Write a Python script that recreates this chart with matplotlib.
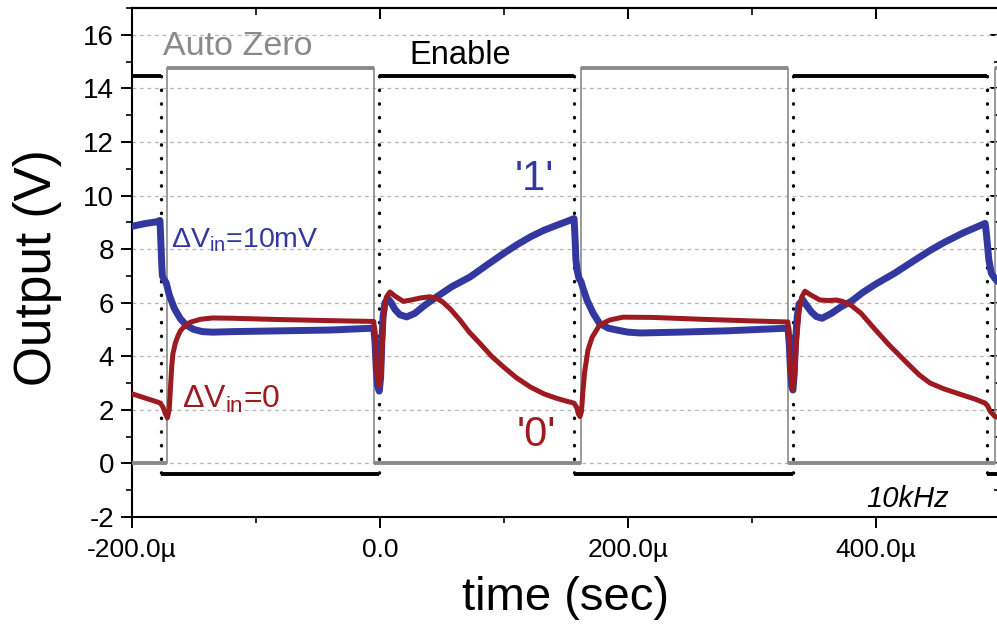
import numpy as np
import matplotlib
matplotlib.use('Agg')
import matplotlib.pyplot as plt
from matplotlib.ticker import MultipleLocator

plt.rcParams['font.family'] = ['Liberation Sans', 'DejaVu Sans']
plt.rcParams['mathtext.fontset'] = 'custom'
plt.rcParams['mathtext.rm'] = 'Liberation Sans'
plt.rcParams['mathtext.default'] = 'regular'
plt.rcParams['axes.unicode_minus'] = False

# === DATA (time in microseconds, output in volts) ===
# Enable (black): edge times and levels
enable_edges = [-176.9, -0.8, 156.5, 333.0, 489.8]
enable_hi = 14.45
enable_lo = -0.4
enable_start_hi = True

# Auto Zero (gray): edge times and levels
az_edges = [-171.5, -4.6, 162.1, 329.0, 496.0]
az_hi = 14.75
az_lo = 0.02
az_start_hi = False

# dVin = 10mV (blue)
blue_t = [-200, -190, -180, -177.5, -177, -176.5, -176, -175.5, -174, -172.5, -170, -166,
          -161, -156, -150, -143, -135, -120, -80, -40, -5, -4, -3, -2, -0.6, 0.5, 1.5,
          2.5, 4, 6.5, 9, 12, 16, 21.5, 28, 36, 45.7, 58, 72.6, 86, 99.4, 110, 121, 132,
          142.5, 150, 156.5, 157, 157.5, 158, 159, 160.5, 162, 164, 167, 172, 177, 184,
          191, 200, 210, 240, 280, 329, 330, 331, 332, 333, 334, 335, 336.5, 338, 341,
          344, 348, 352, 356.5, 364, 372, 380, 389.6, 400, 415, 430, 443.6, 455, 470,
          480, 488, 489, 490, 491, 493, 496, 500]
blue_v = [8.85, 8.95, 9.02, 9.07, 8.6, 8.0, 7.4, 7.0, 6.85, 6.75, 6.3, 5.8,
          5.4, 5.15, 5.0, 4.92, 4.9, 4.92, 4.95, 4.98, 5.05, 4.5, 3.5, 2.9, 2.7, 3.2, 4.6,
          5.5, 6.0, 6.15, 6.0, 5.75, 5.55, 5.47, 5.6, 5.9, 6.22, 6.6, 6.96, 7.4, 7.83, 8.15, 8.45, 8.7,
          8.89, 9.02, 9.14, 8.7, 8.2, 7.6, 7.2, 6.9, 6.8, 6.5, 6.09, 5.6, 5.23, 5.05,
          4.98, 4.9, 4.87, 4.9, 4.95, 5.05, 4.5, 3.5, 2.9, 2.74, 3.3, 4.5, 5.5, 5.95, 6.1,
          5.9, 5.65, 5.48, 5.42, 5.6, 5.85, 6.05, 6.39, 6.7, 7.1, 7.55, 7.95, 8.25, 8.6,
          8.8, 8.96, 8.6, 8.1, 7.6, 7.1, 6.9, 6.7]

# dVin = 0 (dark red)
red_t = [-200, -190, -180, -177, -175, -173, -171.5, -170, -169, -168, -167, -165, -163,
         -161, -157, -153, -145, -135, -120, -80, -40, -5, -4, -3, -2, -0.5, 1, 2, 3, 5,
         8, 12, 18.8, 25, 33, 40.3, 46, 50, 57, 64.5, 72, 80.6, 90, 99.4, 110, 121, 132,
         142.5, 150, 156.5, 158.5, 160, 161.3, 162.5, 163.5, 165, 167.7, 171, 177, 185,
         196, 220, 260, 300, 329, 330, 331, 332, 333, 334.5, 336, 338, 340, 342.7, 347,
         354.8, 362, 368, 373, 380, 388, 397.6, 410, 425, 435, 443.6, 455, 470, 480, 488,
         490, 492, 496, 500]
red_v = [2.6, 2.45, 2.3, 2.25, 2.1, 1.85, 1.7, 2.0, 2.8, 3.6, 4.1, 4.5, 4.75,
         4.95, 5.15, 5.27, 5.38, 5.43, 5.42, 5.37, 5.33, 5.3, 4.7, 3.7, 3.1, 2.9, 3.4, 4.5, 5.5, 6.2,
         6.4, 6.25, 6.05, 6.1, 6.18, 6.22, 6.15, 6.05, 5.75, 5.35, 4.9, 4.48, 4.0, 3.61, 3.2, 2.86, 2.6,
         2.43, 2.33, 2.25, 2.1, 1.85, 1.75, 1.95, 2.6, 3.4, 4.23, 4.7, 5.16, 5.35,
         5.46, 5.45, 5.38, 5.32, 5.28, 4.6, 3.6, 2.9, 2.75, 3.4, 4.6, 5.7, 6.2, 6.43, 6.3,
         6.1, 6.08, 6.1, 6.05, 5.9, 5.6, 5.09, 4.45, 3.75, 3.3, 3.0, 2.78, 2.55, 2.4, 2.25,
         2.15, 1.95, 1.75, 1.7]

xtick_vals = [-200, 0, 200, 400]
xtick_labels = ['-200.0µ', '0.0', '200.0µ', '400.0µ']

BLUE = '#3338a0'
RED = '#9b1b20'
GRAY = '#8a8a8a'

t_min, t_max = -200, 500


def square_wave(edges, hi, lo, start_hi):
    """Return horizontal segments and vertical transitions of a square wave."""
    bounds = [t_min] + list(edges) + [t_max]
    horiz, vert = [], []
    level_hi = start_hi
    for i in range(len(bounds) - 1):
        lev = hi if level_hi else lo
        horiz.append(([bounds[i], bounds[i + 1]], [lev, lev]))
        if i < len(edges):
            vert.append(([edges[i], edges[i]], [hi, lo]))
        level_hi = not level_hi
    return horiz, vert


# === PLOT ===
fig = plt.figure(figsize=(9.97, 6.26), dpi=100)
ax = fig.add_axes([0.1324, 0.1741, 0.8706, 0.8131])

ax.set_xlim(t_min, t_max)
ax.set_ylim(-2, 17)

ax.yaxis.grid(True, which='major', color='#b5b5b5', linestyle=(0, (3, 3)), linewidth=0.9)
ax.set_axisbelow(True)

# Enable (black)
h, v = square_wave(enable_edges, enable_hi, enable_lo, enable_start_hi)
for xs, ys in h:
    ax.plot(xs, ys, color='black', lw=2.8, solid_capstyle='butt', zorder=3)
for xs, ys in v:
    ax.plot(xs, ys, color='black', lw=2.4, linestyle=(0, (0.1, 4.0)),
            dash_capstyle='round', zorder=3)

# Auto Zero (gray)
h, v = square_wave(az_edges, az_hi, az_lo, az_start_hi)
for xs, ys in h:
    ax.plot(xs, ys, color=GRAY, lw=2.8, solid_capstyle='butt', zorder=3)
for xs, ys in v:
    ax.plot(xs, ys, color=GRAY, lw=1.2, zorder=3)

ax.plot(blue_t, blue_v, color=BLUE, lw=5, solid_joinstyle='round',
        solid_capstyle='round', zorder=4)
ax.plot(red_t, red_v, color=RED, lw=3.6, solid_joinstyle='round',
        solid_capstyle='round', zorder=5)

# ticks
ax.set_xticks(xtick_vals)
ax.set_xticklabels(xtick_labels)
ax.xaxis.set_minor_locator(MultipleLocator(100))
ax.yaxis.set_major_locator(MultipleLocator(2))
ax.yaxis.set_minor_locator(MultipleLocator(1))
ax.tick_params(which='major', direction='out', length=8, width=1.4, labelsize=20, pad=5)
ax.tick_params(which='minor', direction='out', length=4.5, width=1.2)
ax.tick_params(axis='x', which='major', labelsize=19, pad=7)

top = ax.secondary_xaxis('top')
top.set_xticks(xtick_vals)
top.xaxis.set_minor_locator(MultipleLocator(100))
top.tick_params(which='major', direction='in', length=8, width=1.4, labeltop=False)
top.tick_params(which='minor', direction='in', length=5, width=1.2)
top.set_xticklabels([])

right = ax.secondary_yaxis('right')
right.yaxis.set_major_locator(MultipleLocator(2))
right.yaxis.set_minor_locator(MultipleLocator(1))
right.tick_params(which='major', direction='in', length=7, width=1.4, labelright=False)
right.tick_params(which='minor', direction='in', length=4, width=1.2)

for s in ax.spines.values():
    s.set_linewidth(1.5)
for s in top.spines.values():
    s.set_linewidth(1.5)
for s in right.spines.values():
    s.set_linewidth(1.5)

# labels
fig.text(38 / 997, 1 - 268 / 626, 'Output (V)', rotation=90, ha='center', va='center', fontsize=37)
fig.text(565 / 997, 1 - 598 / 626, 'time (sec)', ha='center', va='center', fontsize=34)

# annotations
ax.text(-114.5, 15.24, 'Auto Zero', color=GRAY, fontsize=24.5, ha='center', va='baseline')
ax.text(64.5, 14.92, 'Enable', color='black', fontsize=23.5, ha='center', va='baseline')
ax.text(-168.5, 8.07, r'ΔV$_{in}$=10mV', color=BLUE, fontsize=20.5, ha='left', va='baseline', zorder=6)
ax.text(-159.7, 2.07, r'ΔV$_{in}$=0', color=RED, fontsize=23, ha='left', va='baseline', zorder=6)
ax.text(124.2, 10.19, "'1'", color=BLUE, fontsize=30, ha='center', va='baseline')
ax.text(125.8, 0.65, "'0'", color=RED, fontsize=30, ha='center', va='baseline')
ax.text(425.8, -1.62, '10kHz', color='black', fontsize=21, style='italic', ha='center', va='baseline')

fig.savefig('out.png', dpi=100)
